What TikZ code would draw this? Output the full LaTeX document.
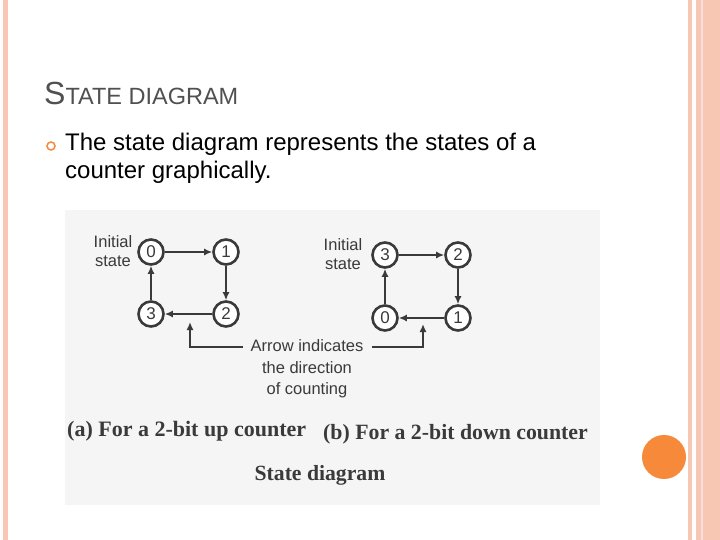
\documentclass[tikz,border=0pt]{standalone}
\usepackage{fontspec}
\setmainfont{Liberation Sans}
\usetikzlibrary{arrows.meta}
\definecolor{pinkb}{HTML}{F8C7B4}
\definecolor{orng}{HTML}{F68A3A}
\definecolor{ttl}{HTML}{505050}
\definecolor{ink}{HTML}{3A3A3A}
\tikzset{st/.style={circle,draw=ink,line width=2.6pt,minimum size=25pt,inner sep=0pt,font=\fontsize{17}{17}\selectfont,text=ink,fill=white},
ar/.style={-{Latex[length=8pt,width=7pt]},draw=ink,line width=1.6pt},
lbl/.style={font=\fontsize{16.5}{19}\selectfont,text=ink,align=center}}
\begin{document}
\begin{tikzpicture}[x=1pt,y=-1pt]
\useasboundingbox (0,0) rectangle (720,540);
\fill[white] (0,0) rectangle (720,540);
\fill[pinkb] (3,0) rectangle (8,540);
\fill[pinkb] (688,0) rectangle (692,540);
\fill[pinkb] (696,0) rectangle (720,540);
\fill[pinkb!120!orange!80] (701,0) rectangle (703,540);
\fill[orng] (664,457) circle (22);
\fill[black!4] (65,210) rectangle (600,505);
\node[anchor=west,text=ttl,font=\fontsize{32}{32}\selectfont,inner sep=0pt] (t) at (44,93) {S\fontsize{23.5}{23.5}\selectfont TATE DIAGRAM};
\node[circle,draw=orng,line width=1.5pt,inner sep=0pt,minimum size=8pt] (b) at (51,146) {};
\node[anchor=north west,align=left,font=\fontsize{24}{28}\selectfont,inner sep=0pt] (p) at (65,133) {The state diagram represents the states of a\\counter graphically.};
% left diagram
\node[st] (a0) at (151,252) {0};
\node[st] (a1) at (226,252) {1};
\node[st] (a2) at (226,314) {2};
\node[st] (a3) at (151,314) {3};
\draw[ar] (a0) -- (a1);
\draw[ar] (a1) -- (a2);
\draw[ar] (a2) -- (a3);
\draw[ar] (a3) -- (a0);
\node[lbl] (i1) at (113,251) {Initial\\state};
% right diagram
\node[st] (b3) at (385,255) {3};
\node[st] (b2) at (458,255) {2};
\node[st] (b1) at (458,318) {1};
\node[st] (b0) at (385,318) {0};
\draw[ar] (b3) -- (b2);
\draw[ar] (b2) -- (b1);
\draw[ar] (b1) -- (b0);
\draw[ar] (b0) -- (b3);
\node[lbl] (i2) at (343,254) {Initial\\state};
\node[lbl,font=\fontsize{16.5}{21.5}\selectfont] (c) at (307,369) {Arrow indicates\\the direction\\of counting};
\coordinate (ca) at (190,322);
\coordinate (cb) at (423,324);
\draw[ar] (243,347) -| (ca);
\draw[ar] (372,347) -| (cb);
\node[anchor=west,font=\bfseries\fontsize{22}{22}\selectfont,text=ink,inner sep=0pt] (la) at (67,431) {\fontspec{Liberation Serif}(a) For a 2-bit up counter};
\node[anchor=west,font=\bfseries\fontsize{21.8}{22}\selectfont,text=ink,inner sep=0pt] (lb) at (323,434) {\fontspec{Liberation Serif}(b) For a 2-bit down counter};
\node[font=\bfseries\fontsize{21.7}{22}\selectfont,text=ink] (sd) at (320,475) {\fontspec{Liberation Serif}State diagram};
\end{tikzpicture}
\end{document}
